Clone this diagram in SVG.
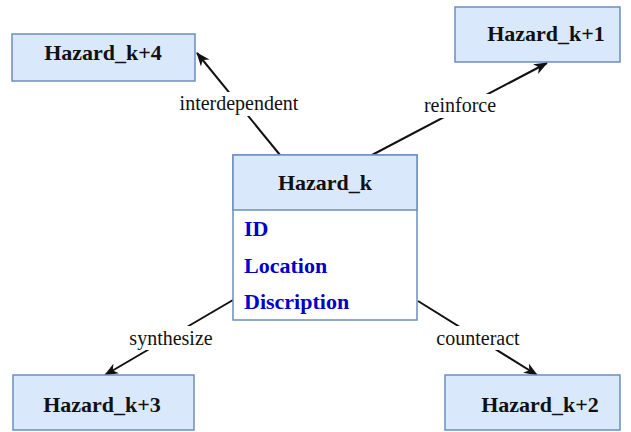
<svg xmlns="http://www.w3.org/2000/svg" width="631" height="432" viewBox="0 0 631 432">
<style>
.box{fill:#dae8fc;stroke:#6c8ebf;stroke-width:1.5}
.body{fill:#ffffff;stroke:#6c8ebf;stroke-width:1.5}
.title{font-family:"Liberation Serif","Times New Roman",serif;font-weight:bold;font-size:22px;fill:#111111;text-anchor:middle}
.attr{font-family:"Liberation Serif","Times New Roman",serif;font-weight:bold;font-size:22px;fill:#0000cc}
.lbl{font-family:"Liberation Serif","Times New Roman",serif;font-size:20px;fill:#111111;text-anchor:middle}
.edge{stroke:#111111;stroke-width:2;fill:none;marker-end:url(#arr)}
.bg{fill:#ffffff}
</style>
<defs>
<marker id="arr" markerUnits="userSpaceOnUse" viewBox="0 0 14 12" markerWidth="14" markerHeight="12" refX="13" refY="6" orient="auto">
<path d="M0,0.5 L14,6 L0,11.5 L4,6 z" fill="#111111"/>
</marker>
</defs>
<rect width="631" height="432" fill="#ffffff"/>
<g id="connectors">
<line class="edge" x1="280" y1="155" x2="197" y2="53"/>
<line class="edge" x1="372" y1="155" x2="547" y2="63"/>
<line class="edge" x1="233" y1="300" x2="105" y2="375"/>
<line class="edge" x1="418" y1="301" x2="537" y2="375"/>
<rect class="bg" x="177" y="92" width="123" height="24"/>
<text class="lbl" x="239" y="110">interdependent</text>
<rect class="bg" x="421" y="94" width="78" height="24"/>
<text class="lbl" x="460" y="112">reinforce</text>
<rect class="bg" x="127" y="326" width="88" height="24"/>
<text class="lbl" x="171" y="345">synthesize</text>
<rect class="bg" x="435" y="326" width="87" height="24"/>
<text class="lbl" x="478" y="345">counteract</text>
</g>
<g id="hazard_k">
<rect class="body" x="233" y="155" width="184" height="165"/>
<rect class="box" x="233" y="155" width="184" height="55"/>
<text class="title" x="325" y="190">Hazard_k</text>
<text class="attr" x="244" y="236">ID</text>
<text class="attr" x="244" y="273">Location</text>
<text class="attr" x="244" y="309">Discription</text>
</g>
<g id="hazard_k4">
<rect class="box" x="12" y="34" width="183" height="47"/>
<text class="title" x="103" y="60">Hazard_k+4</text>
</g>
<g id="hazard_k1">
<rect class="box" x="455" y="7" width="165" height="55"/>
<text class="title" x="546" y="41">Hazard_k+1</text>
</g>
<g id="hazard_k3">
<rect class="box" x="13" y="375" width="181" height="55"/>
<text class="title" x="102" y="412">Hazard_k+3</text>
</g>
<g id="hazard_k2">
<rect class="box" x="445" y="375" width="175" height="55"/>
<text class="title" x="540" y="412">Hazard_k+2</text>
</g>
</svg>
